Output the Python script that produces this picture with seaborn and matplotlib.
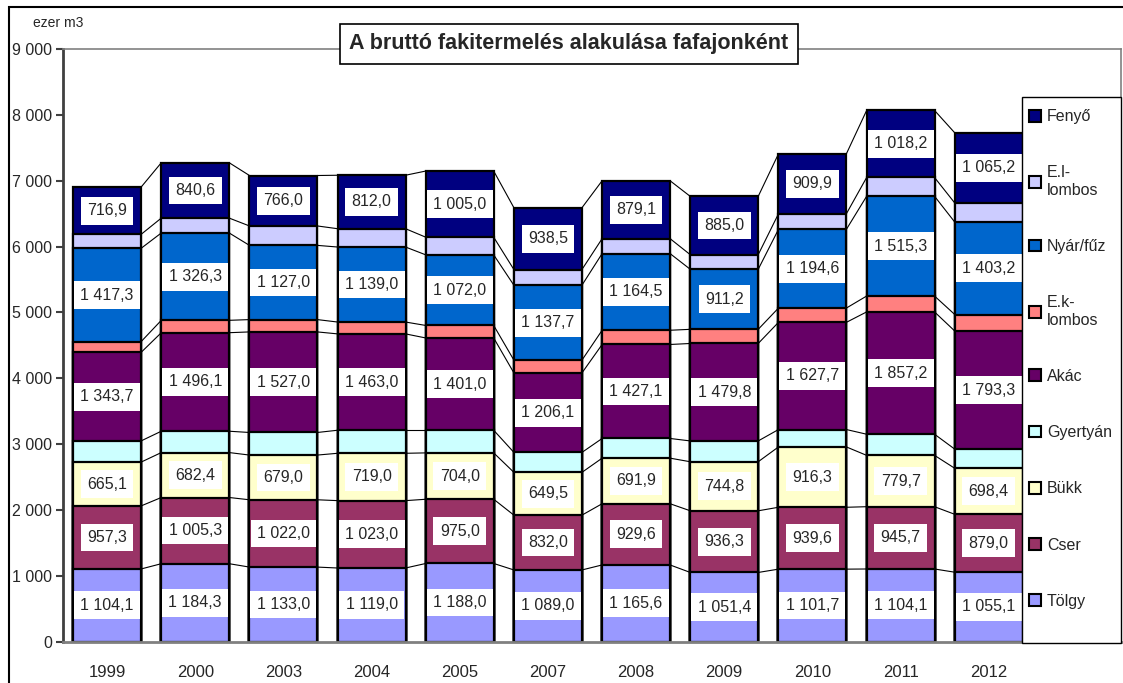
import numpy as np
import pandas as pd
import seaborn as sns
import matplotlib.pyplot as plt
from matplotlib.patches import Patch, Rectangle


years = ['1999', '2000', '2003', '2004', '2005', '2007', '2008', '2009', '2010', '2011', '2012']
species = ['Tölgy', 'Cser', 'Bükk', 'Gyertyán', 'Akác', 'E.k-lombos', 'Nyár/fűz', 'E.l-lombos', 'Fenyő']
legend_names = ['Tölgy', 'Cser', 'Bükk', 'Gyertyán', 'Akác', 'E.k-\nlombos', 'Nyár/fűz', 'E.l-\nlombos', 'Fenyő']

tolgy = [1104.1, 1184.3, 1133.0, 1119.0, 1188.0, 1089.0, 1165.6, 1051.4, 1101.7, 1104.1, 1055.1]
cser = [957.3, 1005.3, 1022.0, 1023.0, 975.0, 832.0, 929.6, 936.3, 939.6, 945.7, 879.0]
bukk = [665.1, 682.4, 679.0, 719.0, 704.0, 649.5, 691.9, 744.8, 916.3, 779.7, 698.4]
# no labels in the source for these three ->
gyertyan = [322, 324, 343, 350, 344, 303, 299, 316, 264, 321, 291]
akac = [1343.7, 1496.1, 1527.0, 1463.0, 1401.0, 1206.1, 1427.1, 1479.8, 1627.7, 1857.2, 1793.3]
ek_lombos = [163, 188, 187, 180, 190, 194, 216, 215, 217, 241, 251]
nyar_fuz = [1417.3, 1326.3, 1127.0, 1139.0, 1072.0, 1137.7, 1164.5, 911.2, 1194.6, 1515.3, 1403.2]
el_lombos = [212, 226, 295, 278, 268, 238, 227, 222, 237, 285, 290]
fenyo = [716.9, 840.6, 766.0, 812.0, 1005.0, 938.5, 879.1, 885.0, 909.9, 1018.2, 1065.2]

series = [tolgy, cser, bukk, gyertyan, akac, ek_lombos, nyar_fuz, el_lombos, fenyo]
colors = ['#9999FF', '#993366', '#FFFFCC', '#CCFFFF', '#660066',
          '#FF8080', '#0066CC', '#CCCCFF', '#000080']
labelled = ['Tölgy', 'Cser', 'Bükk', 'Akác', 'Nyár/fűz', 'Fenyő']


def hu_num(v):
    return '{:,.1f}'.format(v).replace(',', ' ').replace('.', ',')


# long table with stacked bottoms / tops
rows = []
for name, vals in zip(species, series):
    for i, yr in enumerate(years):
        rows.append({'year': yr, 'species': name, 'value': vals[i]})
df = pd.DataFrame(rows)
df['top'] = df.groupby('year', sort=False)['value'].cumsum()
df['bottom'] = df['top'] - df['value']

sns.set_style('white')
plt.rcParams['font.family'] = ['Liberation Sans', 'DejaVu Sans']

fig = plt.figure(figsize=(11.23, 6.83), dpi=100)
ax = fig.add_axes([63 / 1123, 1 - 641.7 / 683, (1121 - 63) / 1123, (641.7 - 49) / 683])

bar_w = 0.77
# draw from the top series down so the lower ones cover the stack
for name, col in zip(reversed(species), reversed(colors)):
    sub = df[df['species'] == name]
    sns.barplot(data=sub, x='year', y='top', order=years, color=col, saturation=1,
                width=bar_w, edgecolor='black', linewidth=1.6, errorbar=None, ax=ax, zorder=2)

# series lines between neighbouring bars
for name in species:
    tops = df[df['species'] == name]['top'].values
    for i in range(len(years) - 1):
        ax.plot([i + bar_w / 2, i + 1 - bar_w / 2], [tops[i], tops[i + 1]],
                color='black', lw=0.8, zorder=1)

# data labels
for name in labelled:
    sub = df[df['species'] == name]
    for i, (_, r) in enumerate(sub.iterrows()):
        ax.text(i, r['bottom'] + r['value'] / 2, hu_num(r['value']), ha='center', va='center',
                fontsize=11.5, zorder=5,
                bbox=dict(boxstyle='square,pad=0.4', fc='white', ec='none'))

ax.set_xlim(-0.5, 11.5)
ax.set_ylim(0, 9000)
ax.set_xlabel('')
ax.set_ylabel('')
ax.set_xticks(range(len(years)))
ax.set_xticklabels(years, fontsize=12)
ax.set_xticks(np.arange(-0.5, 12, 1), minor=True)
ax.tick_params(axis='x', which='major', length=0, pad=17)
ax.tick_params(axis='x', which='minor', length=6, width=1.2, color='#808080', direction='out')
yt = np.arange(0, 9001, 1000)
ax.set_yticks(yt)
ax.set_yticklabels(['{:,}'.format(v).replace(',', ' ') for v in yt], fontsize=11.5)
ax.tick_params(axis='y', length=5, width=1.5, color='#404040', direction='out', pad=3, left=True)

for side in ['top', 'right']:
    ax.spines[side].set_color('#808080')
    ax.spines[side].set_linewidth(1.2)
ax.spines['left'].set_color('#404040')
ax.spines['left'].set_linewidth(2)
ax.spines['bottom'].set_color('#808080')
ax.spines['bottom'].set_linewidth(2)

# legend on the empty 12th slot, frame drawn separately
fig.patches.append(Rectangle((1022 / 1123, 1 - 643 / 683), 99 / 1123, 546 / 683,
                             transform=fig.transFigure, fc='white', ec='black', lw=1, zorder=9))
handles = [Patch(facecolor=c, edgecolor='black', linewidth=1.5, label=l)
           for c, l in zip(colors, legend_names)]
leg = fig.legend(handles=handles[::-1], loc='center left',
                 bbox_to_anchor=(1023 / 1123, 1 - 359 / 683), fontsize=11.5,
                 frameon=False, handlelength=0.75, handleheight=0.75, handletextpad=0.35,
                 labelspacing=2.58, borderpad=0.4, borderaxespad=0)
leg.set_zorder(10)

fig.text(33 / 1123, 1 - 23 / 683, 'ezer m3', fontsize=10, va='center', ha='left')
fig.text(569 / 1123, 1 - 44 / 683, 'A bruttó fakitermelés alakulása fafajonként',
         fontsize=15.5, fontweight='bold', ha='center', va='center', zorder=10,
         bbox=dict(boxstyle='square,pad=0.42', fc='white', ec='black', lw=1.2))

fig.patches.append(Rectangle((9 / 1123, -0.1), 1.2, 1 - 7 / 683 + 0.1, transform=fig.transFigure,
                             fill=False, ec='black', lw=1.5, zorder=0))

plt.savefig('out.png', dpi=100)
